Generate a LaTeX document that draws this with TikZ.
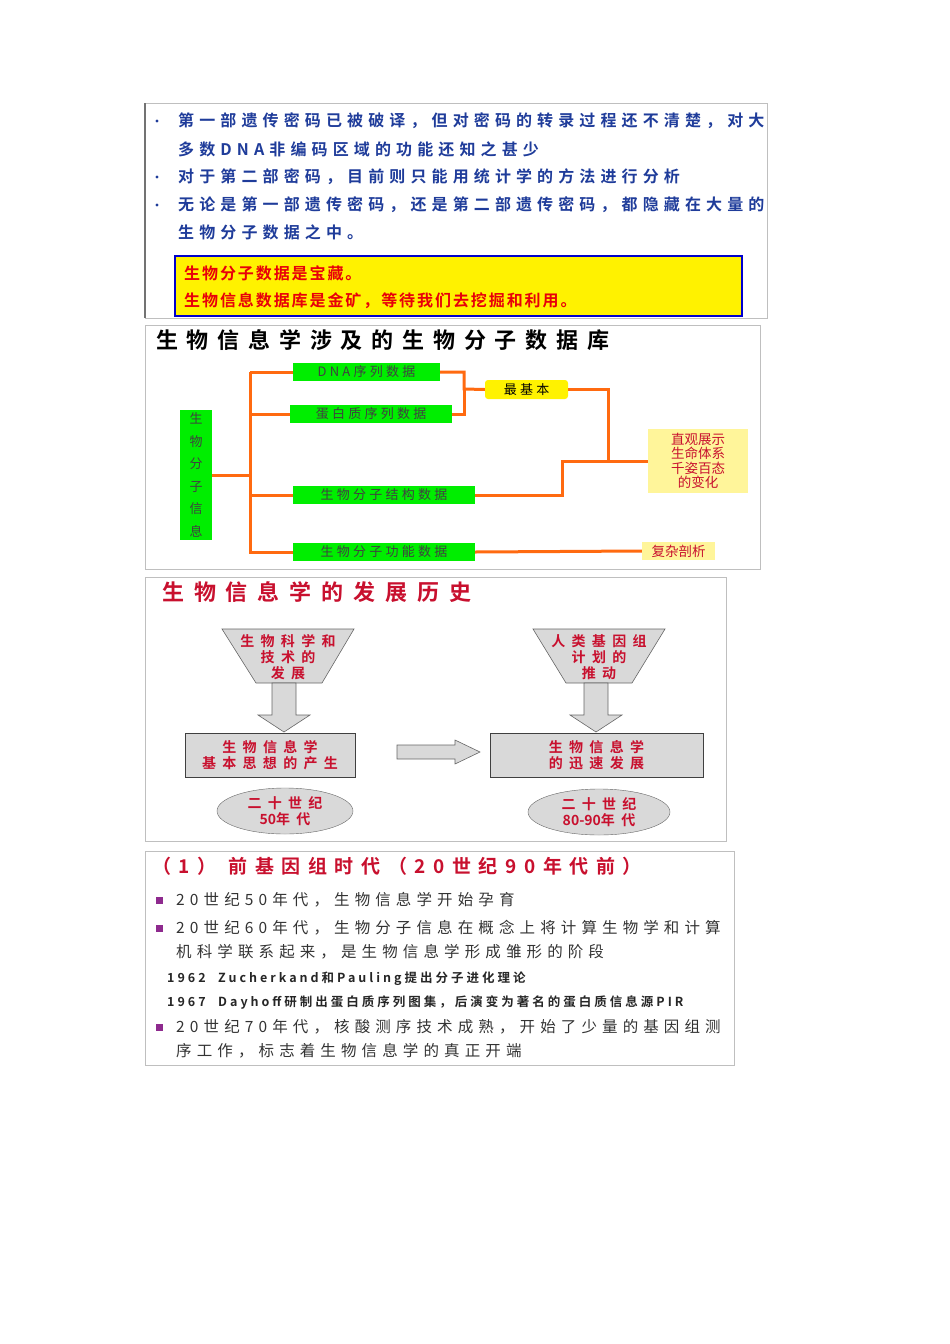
\documentclass[tikz,border=0pt]{standalone}
\usetikzlibrary{shapes.geometric}
\usepackage{fontspec}
\setmainfont{Liberation Sans}
\newfontfamily\cjk{Noto Sans CJK SC}
\newfontfamily\cjkb{Noto Sans CJK SC Bold}
\newfontfamily\cjkbs[LetterSpace=32]{Noto Sans CJK SC Bold}
\newfontfamily\cjkbt[LetterSpace=45]{Noto Sans CJK SC Bold}
\newfontfamily\cjkbx[LetterSpace=40]{Noto Sans CJK SC Bold}
\newfontfamily\cjks[LetterSpace=33]{Noto Sans CJK SC}
\newfontfamily\cjkg[LetterSpace=25]{Noto Sans CJK SC}
\newfontfamily\cjkbu[LetterSpace=12]{Noto Sans CJK SC Bold}
\newfontfamily\cjkbv[LetterSpace=24]{Noto Sans CJK SC Bold}
\definecolor{ptblue}{HTML}{1F3C9A}
\definecolor{ptred}{HTML}{E8000A}
\definecolor{dred}{HTML}{C8102E}
\definecolor{gr}{HTML}{00EE00}
\definecolor{org}{HTML}{FF6A10}
\definecolor{pyel}{HTML}{FFF59A}
\definecolor{box}{HTML}{D9D9D9}
\definecolor{purp}{HTML}{8E2A8E}
\begin{document}
\begin{tikzpicture}[x=1pt,y=-1pt,
  panel/.style={draw=black!25,line width=0.8pt},
  t1/.style={anchor=west,inner sep=0,font=\cjkbs\fontsize{16}{16}\selectfont,text=ptblue},
  gbox/.style={fill=gr,inner sep=0,font=\cjkg\fontsize{13}{13}\selectfont,text=black!75},
  link/.style={draw=org,line width=3pt},
  t3/.style={font=\cjkbt\fontsize{14}{16}\selectfont,text=dred,align=center},
  t4/.style={anchor=west,inner sep=0,font=\cjks\fontsize{15.5}{15.5}\selectfont,text=black!80},
  t5/.style={anchor=west,inner sep=0,font=\cjkbv\fontsize{12.5}{12.5}\selectfont,text=black!85},
  sq/.style={fill=purp,minimum size=7pt,inner sep=0},
  bigarrow/.style={fill=box,draw=black!60,line width=0.6pt}]
\useasboundingbox (0,0) rectangle (950,1344);
% ---------------- panel 1
\draw[panel] (145,103) rectangle (767,318);
\draw[black!55,line width=1.5pt] (145,103) -- (145,318);
\foreach \y in {121,177,205}{\node[fill=ptblue,circle,inner sep=1.2pt] at (157,\y) {};}
\node[t1] at (178,121) {第一部遗传密码已被破译，但对密码的转录过程还不清楚，对大};
\node[t1] at (178,149) {多数DNA非编码区域的功能还知之甚少};
\node[t1] at (178,177) {对于第二部密码，目前则只能用统计学的方法进行分析};
\node[t1] at (178,205) {无论是第一部遗传密码，还是第二部遗传密码，都隐藏在大量的};
\node[t1] at (178,232) {生物分子数据之中。};
\draw[fill=yellow,draw=blue!80!black,line width=2.5pt] (175,256) rectangle (742,316);
\node[t1,text=ptred,font=\cjkbu\fontsize{16}{16}\selectfont] at (184,273) {生物分子数据是宝藏。};
\node[t1,text=ptred,font=\cjkbu\fontsize{16}{16}\selectfont] at (184,301) {生物信息数据库是金矿，等待我们去挖掘和利用。};
% ---------------- panel 2
\draw[panel] (145,325) rectangle (760,569);
\node[anchor=west,inner sep=0,font=\cjkbx\fontsize{22}{22}\selectfont] at (156,340) {生物信息学涉及的生物分子数据库};
\node[gbox,minimum width=32pt,minimum height=130pt,align=center,font=\cjk\fontsize{13}{22.5}\selectfont] (bio) at (196,475) {生\\物\\分\\子\\信\\息};
\node[gbox,minimum width=147pt,minimum height=18pt] (dna) at (366.5,372) {DNA序列数据};
\node[gbox,minimum width=162pt,minimum height=18pt] (prot) at (371,414) {蛋白质序列数据};
\node[gbox,minimum width=182pt,minimum height=18pt] (str) at (384,495) {生物分子结构数据};
\node[gbox,minimum width=182pt,minimum height=18pt] (fun) at (384,552) {生物分子功能数据};
\node[fill=yellow,rounded corners=3pt,minimum width=83pt,minimum height=19pt,inner sep=0,font=\cjkg\fontsize{13}{13}\selectfont] (base) at (526.5,389.5) {最基本};
\node[fill=pyel,minimum width=100pt,minimum height=64pt,inner sep=0,align=center,font=\cjk\fontsize{13.5}{14.5}\selectfont,text=dred] (vis) at (698,461) {直观展示\\生命体系\\千姿百态\\的变化};
\node[fill=pyel,minimum width=73pt,minimum height=18pt,inner sep=0,font=\cjk\fontsize{13.5}{13.5}\selectfont,text=dred] (cpx) at (678.5,551) {复杂剖析};
\coordinate (tr) at (250,475);
\draw[link] (bio.east) -- (tr);
\draw[link] (250,372) |- (dna.west);
\draw[link] (250,372) -- (250,552) -- (fun.west);
\draw[link] (250,414) -- (prot.west);
\draw[link] (250,495) -- (str.west);
\draw[link] (dna.east) -| (464,389) -- (base.west);
\draw[link] (prot.east) -| (464,389);
\draw[link] (base.east) -| (608,461);
\draw[link] (str.east) -| (562,461) -- (vis.west);
\draw[link] (fun.east) -- (cpx.west);
% ---------------- panel 3
\draw[panel] (145,577) rectangle (726,841);
\node[anchor=west,inner sep=0,font=\cjkbt\fontsize{22}{22}\selectfont,text=dred] at (162,592) {生物信息学的发展历史};
\draw[bigarrow] (222,629) -- (354,629) -- (322,683) -- (256,683) -- cycle;
\node[t3] (f1) at (288,657) {生物科学和\\技术的\\发展};
\draw[bigarrow] (533,629) -- (665,629) -- (632,683) -- (566,683) -- cycle;
\node[t3] (f2) at (599,657) {人类基因组\\计划的\\推动};
\draw[bigarrow] (272,683) -- (296,683) -- (296,715) -- (310,715) -- (284,732) -- (258,715) -- (272,715) -- cycle;
\draw[bigarrow] (584,683) -- (608,683) -- (608,715) -- (622,715) -- (596,732) -- (570,715) -- (584,715) -- cycle;
\node[draw=black!75,fill=box,minimum width=170pt,minimum height=44pt,inner sep=0,t3] (b1) at (270,755) {生物信息学\\基本思想的产生};
\node[draw=black!75,fill=box,minimum width=213pt,minimum height=44pt,inner sep=0,t3] (b2) at (596.5,755) {生物信息学\\的迅速发展};
\draw[bigarrow] (397,745) -- (455,745) -- (455,740) -- (480,752) -- (455,764) -- (455,759) -- (397,759) -- cycle;
\node[ellipse,draw=black!60,fill=box,minimum width=136pt,minimum height=46pt,inner sep=0,t3] (e1) at (285,811) {二十世纪\\{\cjkb 50}年代};
\node[ellipse,draw=black!60,fill=box,minimum width=142pt,minimum height=46pt,inner sep=0,t3] (e2) at (599,812) {二十世纪\\{\cjkb 80-90}年代};
% ---------------- panel 4
\draw[panel] (145,851) rectangle (734,1065);
\node[anchor=west,inner sep=0,font=\cjkbx\fontsize{19}{19}\selectfont,text=dred] at (152,866) {（1） 前基因组时代（20世纪90年代前）};
\node[sq] at (159,900) {};
\node[sq] at (159,928) {};
\node[sq] at (159,1027) {};
\node[t4] at (176,900) {20世纪50年代，生物信息学开始孕育};
\node[t4] at (176,928) {20世纪60年代，生物分子信息在概念上将计算生物学和计算};
\node[t4] at (176,952) {机科学联系起来，是生物信息学形成雏形的阶段};
\node[t5] at (167,979) {1962\quad Zucherkand和Pauling提出分子进化理论};
\node[t5] at (167,1003) {1967\quad Dayhoff研制出蛋白质序列图集，后演变为著名的蛋白质信息源PIR};
\node[t4] at (176,1027) {20世纪70年代，核酸测序技术成熟，开始了少量的基因组测};
\node[t4] at (176,1051) {序工作，标志着生物信息学的真正开端};
\end{tikzpicture}
\end{document}
